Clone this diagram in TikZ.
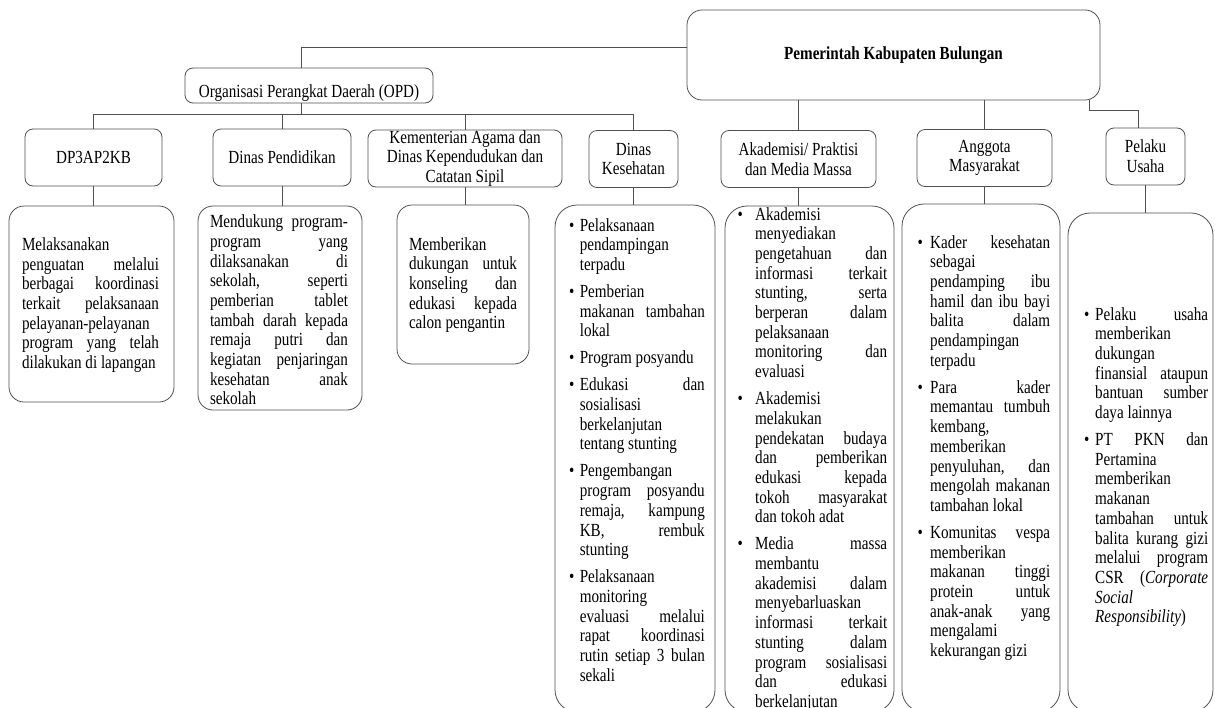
\documentclass[tikz,border=0pt]{standalone}
\usepackage{fontspec}
\setmainfont{Liberation Serif}[FakeStretch=0.818]
\newlength\bind \newlength\tw
\newcommand\lnJ[1]{\hbox{\hskip\bind\hbox to\tw{#1}}}
\newcommand\lnL[1]{\hbox{\hskip\bind\hbox to\tw{#1\hfil}}}
\newcommand\btJ[1]{\hbox{\hbox to\bind{\textbullet\hfil}\hbox to\tw{#1}}}
\newcommand\btL[1]{\hbox{\hbox to\bind{\textbullet\hfil}\hbox to\tw{#1\hfil}}}
\newcommand\itemgap{\vskip7.3pt}
\newcommand\vt[1]{\vtop{\lineskiplimit=-50pt\relax #1}}
\definecolor{ln}{HTML}{505050}
\tikzset{
  fnt/.style={font=\fontsize{18.5pt}{19.7pt}\selectfont},
  hdr/.style={draw=ln, line width=0.8pt, rounded corners=8pt, inner sep=0pt, align=center, fnt},
  cbox/.style={draw=ln, line width=0.8pt, rounded corners=15pt, inner sep=0pt},
  tbox/.style={draw=ln, line width=0.8pt, rounded corners=22pt, inner sep=0pt},
  txt/.style={inner sep=0pt, fnt},
  conn/.style={draw=ln, line width=0.8pt}
}
\begin{document}
\begin{tikzpicture}[x=1pt,y=-1pt]
\useasboundingbox (0,0) rectangle (1215,707);
\clip (0,0) rectangle (1215,707);
% top
\node[hdr, rounded corners=15pt, minimum width=413pt, minimum height=90pt, font=\fontsize{18.5pt}{19.7pt}\selectfont\bfseries] (top) at (893.5,55) {Pemerintah Kabupaten Bulungan};
\node[hdr, anchor=base, minimum width=248pt, text height=29pt, text depth=6pt] (opd) at (309,97) {Organisasi Perangkat Daerah (OPD)};
% headers
\node[hdr, minimum width=137pt, minimum height=57pt] (h1) at (93.5,157.5) {DP3AP2KB};
\node[hdr, minimum width=138pt, minimum height=57pt] (h2) at (282,157.5) {Dinas Pendidikan};
\node[hdr, minimum width=194pt, minimum height=57pt] (h3) at (465,158.5) {Kementerian Agama dan\\Dinas Kependudukan dan\\Catatan Sipil};
\node[hdr, minimum width=89pt, minimum height=57pt] (h4) at (633.5,159) {Dinas\\Kesehatan};
\node[hdr, minimum width=155pt, minimum height=57pt] (h5) at (798.5,159) {Akademisi/ Praktisi\\dan Media Massa};
\node[hdr, minimum width=135pt, minimum height=57pt] (h6) at (984.5,158) {Anggota\\Masyarakat};
\node[hdr, minimum width=79pt, minimum height=57pt] (h7) at (1145.5,156.5) {Pelaku\\Usaha};
% content boxes
\node[cbox, minimum width=165pt, minimum height=196pt] (c1) at (91.5,304) {};
\node[cbox, minimum width=164pt, minimum height=204pt] (c2) at (280,308) {};
\node[cbox, minimum width=132pt, minimum height=159pt] (c3) at (463,284.5) {};
\node[tbox, minimum width=160pt, minimum height=507pt] (c4) at (635,458.5) {};
\node[tbox, minimum width=169pt, minimum height=506pt] (c5) at (809.5,459) {};
\node[tbox, minimum width=158pt, minimum height=508pt] (c6) at (981,458) {};
\node[tbox, minimum width=145pt, minimum height=499pt] (c7) at (1140.5,462.5) {};
% connectors
\coordinate (bus) at (0,114);
\draw[conn] ([yshift=8pt]top.west) -| ([xshift=-8pt]opd.north);
\draw[conn] ([xshift=-8pt]opd.south) -- ([xshift=-8pt]opd.south |- bus);
\draw[conn] (h1.north |- bus) -- (h4.north |- bus);
\foreach \h in {h1,h2,h3,h4} \draw[conn] (\h.north) -- (\h.north |- bus);
\draw[conn] (h5.north) -- (h5.north |- top.south);
\draw[conn] (h6.north) -- (h6.north |- top.south);
\draw[conn] ([xshift=-11pt,yshift=0.5pt]top.south east) -- ++(0,10) -| ([xshift=-7pt]h7.north);
\draw[conn] (h1.south) -- (h1.south |- c1.north);
\draw[conn] (h2.south) -- (h2.south |- c2.north);
\draw[conn] (h3.south) -- (h3.south |- c3.north);
\draw[conn] (h4.south) -- (h4.south |- c4.north);
\draw[conn] (h5.south) -- (h5.south |- c5.north);
\draw[conn] (h6.south) -- (h6.south |- c6.north);
\draw[conn] (h7.south) -- (h7.south |- c7.north);
% texts
\node[txt] (t1) at (90.5,305) {\vt{\bind=0pt \tw=137pt
\lnL{Melaksanakan}\lnJ{penguatan melalui}\lnJ{berbagai koordinasi}\lnJ{terkait pelaksanaan}\lnL{pelayanan-pelayanan}\lnJ{program yang telah}\lnL{dilakukan di lapangan}}};
\node[txt] (t2) at (279,310) {\vt{\bind=0pt \tw=138pt
\lnJ{Mendukung program-}\lnJ{program yang}\lnJ{dilaksanakan di}\lnJ{sekolah, seperti}\lnJ{pemberian tablet}\lnJ{tambah darah kepada}\lnJ{remaja putri dan}\lnJ{kegiatan penjaringan}\lnJ{kesehatan anak}\lnL{sekolah}}};
\node[txt] (t3) at (463,285) {\vt{\bind=0pt \tw=108pt
\lnL{Memberikan}\lnJ{dukungan untuk}\lnJ{konseling dan}\lnJ{edukasi kepada}\lnL{calon pengantin}}};
\node[txt, anchor=base west] (t4) at (569,231) {\vt{\bind=10.6pt \tw=125pt
\btL{Pelaksanaan}\lnL{pendampingan}\lnL{terpadu}\itemgap
\btL{Pemberian}\lnJ{makanan tambahan}\lnL{lokal}\itemgap
\btL{Program posyandu}\itemgap
\btJ{Edukasi dan}\lnL{sosialisasi}\lnL{berkelanjutan}\lnL{tentang stunting}\itemgap
\btL{Pengembangan}\lnJ{program posyandu}\lnJ{remaja, kampung}\lnJ{KB, rembuk}\lnL{stunting}\itemgap
\btL{Pelaksanaan}\lnL{monitoring}\lnJ{evaluasi melalui}\lnJ{rapat koordinasi}\lnJ{rutin setiap 3 bulan}\lnL{sekali}}};
\node[txt, anchor=base west] (t5) at (737.5,220) {\vt{\bind=17.5pt \tw=132pt
\btL{Akademisi}\lnL{menyediakan}\lnJ{pengetahuan dan}\lnJ{informasi terkait}\lnJ{stunting, serta}\lnJ{berperan dalam}\lnL{pelaksanaan}\lnJ{monitoring dan}\lnL{evaluasi}\itemgap
\btL{Akademisi}\lnL{melakukan}\lnJ{pendekatan budaya}\lnJ{dan pemberikan}\lnJ{edukasi kepada}\lnJ{tokoh masyarakat}\lnL{dan tokoh adat}\itemgap
\btJ{Media massa}\lnL{membantu}\lnJ{akademisi dalam}\lnL{menyebarluaskan}\lnJ{informasi terkait}\lnJ{stunting dalam}\lnJ{program sosialisasi}\lnJ{dan edukasi}\lnL{berkelanjutan}}};
\node[txt, anchor=base west] (t6) at (917.4,248) {\vt{\bind=12.6pt \tw=120pt
\btJ{Kader kesehatan}\lnL{sebagai}\lnJ{pendamping ibu}\lnJ{hamil dan ibu bayi}\lnJ{balita dalam}\lnL{pendampingan}\lnL{terpadu}\itemgap
\btJ{Para kader}\lnJ{memantau tumbuh}\lnL{kembang,}\lnL{memberikan}\lnJ{penyuluhan, dan}\lnJ{mengolah makanan}\lnL{tambahan lokal}\itemgap
\btJ{Komunitas vespa}\lnL{memberikan}\lnJ{makanan tinggi}\lnJ{protein untuk}\lnJ{anak-anak yang}\lnL{mengalami}\lnL{kekurangan gizi}}};
\node[txt, anchor=base west] (t7) at (1084,320) {\vt{\bind=11pt \tw=113pt
\btJ{Pelaku usaha}\lnL{memberikan}\lnL{dukungan}\lnJ{finansial ataupun}\lnJ{bantuan sumber}\lnL{daya lainnya}\itemgap
\btJ{PT PKN dan}\lnL{Pertamina}\lnL{memberikan}\lnL{makanan}\lnJ{tambahan untuk}\lnJ{balita kurang gizi}\lnJ{melalui program}\lnJ{CSR (\textit{Corporate}}\lnL{\textit{Social}}\lnL{\textit{Responsibility})}}};
\end{tikzpicture}
\end{document}
